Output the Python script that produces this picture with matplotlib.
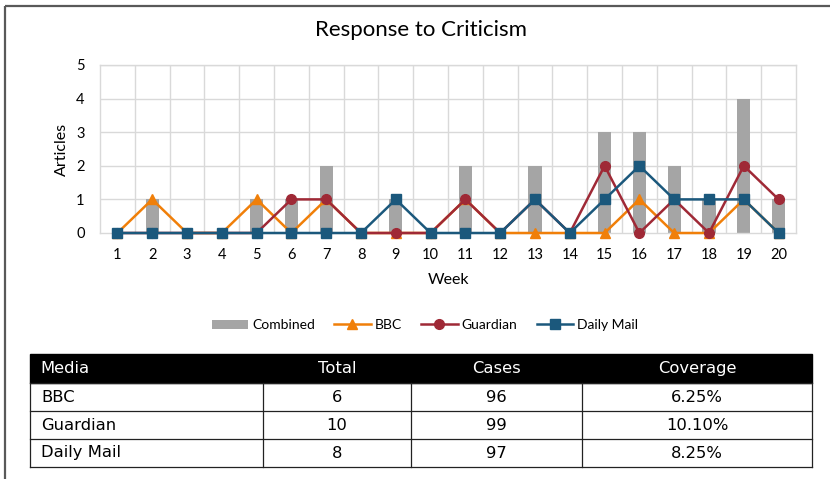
import matplotlib
matplotlib.use("Agg")
import matplotlib.pyplot as plt
from matplotlib.patches import Rectangle, Patch
from matplotlib.lines import Line2D
import numpy as np

plt.rcParams['font.family'] = ['Lato', 'DejaVu Sans']

weeks = list(range(1, 21))
bbc      = [0, 1, 0, 0, 1, 0, 1, 0, 0, 0, 1, 0, 0, 0, 0, 1, 0, 0, 1, 0]
guardian = [0, 0, 0, 0, 0, 1, 1, 0, 0, 0, 1, 0, 1, 0, 2, 0, 1, 0, 2, 1]
dailymail= [0, 0, 0, 0, 0, 0, 0, 0, 1, 0, 0, 0, 1, 0, 1, 2, 1, 1, 1, 0]
combined = [b + g + d for b, g, d in zip(bbc, guardian, dailymail)]

table_header = ["Media", "Total", "Cases", "Coverage"]
table_media = ["BBC", "Guardian", "Daily Mail"]
table_total = [6, 10, 8]
table_cases = [96, 99, 97]
table_coverage = ["6.25%", "10.10%", "8.25%"]

c_bar = "#a5a5a5"
c_bbc = "#F07F09"
c_gua = "#9F2936"
c_dm = "#1B587C"
c_grid = "#d9d9d9"

W, H = 830, 479
fig = plt.figure(figsize=(W / 100, H / 100), dpi=100)

# overlay for border and table (pixel coordinates)
ov = fig.add_axes([0, 0, 1, 1])
ov.set_xlim(0, W)
ov.set_ylim(H, 0)
ov.axis('off')
ov.plot([5, W], [6, 6], color="#595959", lw=1.6, solid_capstyle='butt')
ov.plot([5, 5], [6, H], color="#595959", lw=1.6, solid_capstyle='butt')

# chart axes
L, R, T, B = 100, 796, 65, 233
ax = fig.add_axes([L / W, 1 - B / H, (R - L) / W, (B - T) / H])
x = np.arange(1, 21)
ax.bar(x, combined, width=0.38, color=c_bar, zorder=2)
ax.plot(x, bbc, color=c_bbc, lw=1.8, marker='^', markersize=7.5, zorder=3, clip_on=False)
ax.plot(x, guardian, color=c_gua, lw=1.8, marker='o', markersize=7, zorder=4, clip_on=False)
ax.plot(x, dailymail, color=c_dm, lw=1.8, marker='s', markersize=6.5, zorder=5, clip_on=False)

ax.set_xlim(0.5, 20.5)
ax.set_ylim(0, 5)
ax.set_yticks(range(0, 6))
ax.set_xticks(x)
ax.set_xticklabels([str(w) for w in weeks])
ax.grid(False)
for xv in np.arange(1.5, 20.5, 1):
    ax.axvline(xv, color=c_grid, lw=1, zorder=1)
for yv in range(1, 6):
    ax.axhline(yv, color=c_grid, lw=1, zorder=1)
for s in ['left', 'right', 'top', 'bottom']:
    ax.spines[s].set_color(c_grid)
    ax.spines[s].set_linewidth(1)
ax.tick_params(axis='both', which='both', length=0, labelsize=10.5, colors='#000000')
ax.tick_params(axis='x', pad=11)
ax.tick_params(axis='y', pad=11)
ax.set_xlabel("Week", fontsize=11.5, labelpad=8)
ax.set_ylabel("Articles", fontsize=11.5, labelpad=5)

fig.text(421 / W, 1 - 30 / H, "Response to Criticism", ha='center', va='center', fontsize=16)

handles = [Patch(facecolor=c_bar, edgecolor='none'),
           Line2D([], [], color=c_bbc, lw=1.8, marker='^', markersize=7.5),
           Line2D([], [], color=c_gua, lw=1.8, marker='o', markersize=7),
           Line2D([], [], color=c_dm, lw=1.8, marker='s', markersize=6.5)]
fig.legend(handles, ["Combined", "BBC", "Guardian", "Daily Mail"], ncol=4, loc='center',
           bbox_to_anchor=(425 / W, 1 - 325 / H), frameon=False, fontsize=10,
           handlelength=2.6, handleheight=0.6, columnspacing=1.4, handletextpad=0.3)

# table
tx0, tx1 = 30, 812
cols = [30, 263, 411, 582, 812]
rows = [354, 383, 411, 439, 467]
tfont = dict(family=['DejaVu Sans'], fontsize=11.8)
ov.add_patch(Rectangle((tx0, rows[0]), tx1 - tx0, rows[1] - rows[0], facecolor='black', edgecolor='black', lw=1))
for r in rows[1:]:
    ov.plot([tx0, tx1], [r, r], color='#222222', lw=0.9)
for c in cols:
    ov.plot([c, c], [rows[1], rows[-1]], color='#222222', lw=0.9)
hx = [40, (cols[1] + cols[2]) / 2, (cols[2] + cols[3]) / 2, (cols[3] + cols[4]) / 2]
hal = ['left', 'center', 'center', 'center']
hy = (rows[0] + rows[1]) / 2
for t, xx, a in zip(table_header, hx, hal):
    ov.text(xx, hy, t, ha=a, va='center', color='white', **tfont)
for i in range(3):
    yy = (rows[i + 1] + rows[i + 2]) / 2
    vals = [table_media[i], str(table_total[i]), str(table_cases[i]), table_coverage[i]]
    for t, xx, a in zip(vals, hx, hal):
        ov.text(xx + (1 if a == 'left' else 0), yy, t, ha=a, va='center', color='black', **tfont)

fig.savefig("out.png", dpi=100)
